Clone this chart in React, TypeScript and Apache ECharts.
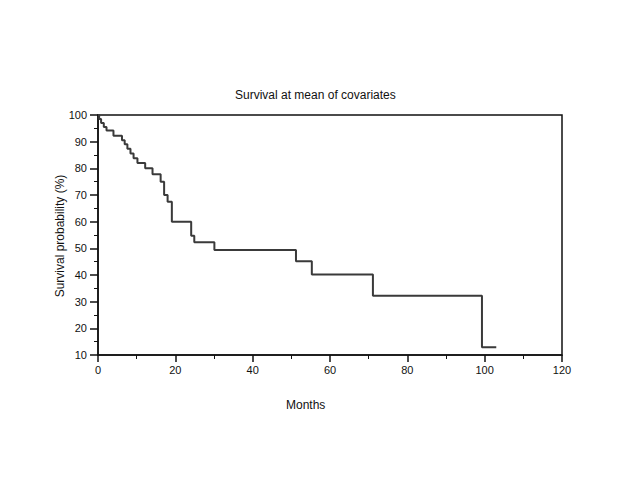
import React, { useEffect, useRef } from "react";
import * as echarts from "echarts";

const times = [0, 0.3, 0.8, 1.5, 2.2, 4.0, 6.2, 6.9, 7.6, 8.4, 9.2, 10.2, 12.2, 14.1, 16.2, 17.1, 18.0, 19.1, 24.1, 24.9, 30.1, 51.2, 55.3, 71.1, 99.3, 103];
const survival = [100, 98.5, 97, 95.5, 94.2, 92.2, 90.5, 89, 87.3, 85.6, 83.8, 82, 80, 77.8, 75, 70, 67.5, 60, 54.7, 52.3, 49.4, 45.2, 40.2, 32.2, 12.9, 12.9];
const titleText = "Survival at mean of covariates";
const xName = "Months";
const yName = "Survival probability (%)";

export default function App() {
  const ref = useRef<HTMLDivElement>(null);
  useEffect(() => {
    if (!ref.current) return;
    const chart = echarts.init(ref.current, undefined, { renderer: "svg" });
    const font = "Liberation Sans, Arial, sans-serif";
    chart.setOption({
      animation: false,
      backgroundColor: "#fff",
      textStyle: { fontFamily: font },
      grid: {
        left: 98,
        right: 78,
        top: 115,
        bottom: 125,
        show: true,
        borderColor: "#111",
        borderWidth: 1.5,
        backgroundColor: "transparent",
      },
      graphic: [
        {
          type: "text",
          left: 235,
          top: 89,
          style: { text: titleText, font: `12px ${font}`, fill: "#111" },
        },
        {
          type: "text",
          left: 286,
          top: 399,
          style: { text: xName, font: `12px ${font}`, fill: "#111" },
        },
        {
          type: "text",
          x: 60,
          y: 236,
          rotation: Math.PI / 2,
          style: {
            text: yName,
            font: `12px ${font}`,
            fill: "#111",
            align: "center",
            verticalAlign: "middle",
          },
        },
      ],
      xAxis: {
        type: "value",
        min: 0,
        max: 120,
        interval: 20,
        axisLine: { show: true, lineStyle: { color: "#111", width: 1.5 } },
        axisTick: { show: true, length: 7, lineStyle: { color: "#111", width: 1.5 } },
        minorTick: { show: true, splitNumber: 2, length: 4, lineStyle: { color: "#111", width: 1 } },
        splitLine: { show: false },
        axisLabel: { color: "#111", fontSize: 11, margin: 9, fontFamily: font },
      },
      yAxis: {
        type: "value",
        min: 10,
        max: 100,
        interval: 10,
        axisLine: { show: true, lineStyle: { color: "#111", width: 1.5 } },
        axisTick: { show: true, length: 8, lineStyle: { color: "#111", width: 1.5 } },
        minorTick: { show: true, splitNumber: 2, length: 4, lineStyle: { color: "#111", width: 1 } },
        splitLine: { show: false },
        axisLabel: { color: "#111", fontSize: 11, margin: 11, fontFamily: font },
      },
      series: [
        {
          type: "line",
          step: "end",
          data: times.map((t, i) => [t, survival[i]]),
          showSymbol: false,
          lineStyle: { color: "#3a3a3a", width: 2 },
        },
      ],
    });
    return () => chart.dispose();
  }, []);
  return <div ref={ref} style={{ width: 640, height: 480, position: "absolute", left: 0, top: 0 }} />;
}
